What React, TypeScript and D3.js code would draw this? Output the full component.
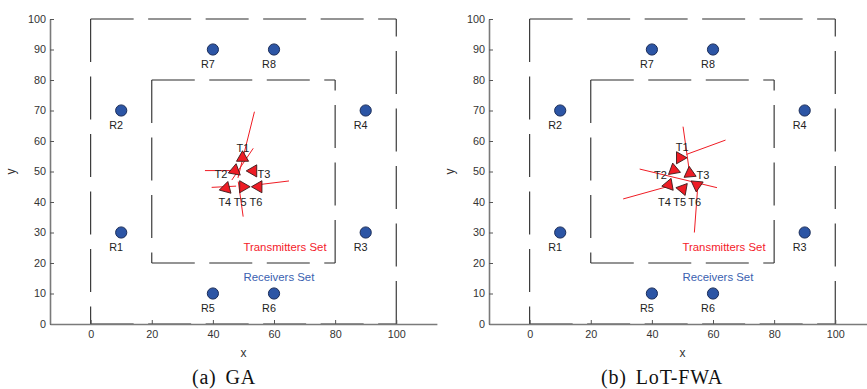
import React, { useEffect, useRef } from 'react';
import * as d3 from 'd3';

// receivers, same positions in both runs
const receiverNames = ['R1', 'R2', 'R3', 'R4', 'R5', 'R6', 'R7', 'R8'];
const receiverX = [10, 10, 90, 90, 40, 60, 40, 60];
const receiverY = [30, 70, 30, 70, 10, 10, 90, 90];

const transmitterNames = ['T1', 'T2', 'T3', 'T4', 'T5', 'T6'];

// (a) GA result
const gaX = [49.7, 47.2, 53.2, 44.3, 49.9, 54.9];
const gaY = [54.5, 50.3, 50.2, 44.5, 45.0, 45.0];
const gaAngle = [210, 200, 180, 195, 0, 180]; // where the tip points, degrees
const gaLabelX = [49.8, 42.6, 56.7, 43.9, 48.9, 54.1];
const gaLabelY = [57.7, 49.2, 49.2, 40.0, 40.0, 40.0];
const gaBeams = [
  [53.6, 69.6, 48.2, 47.9],
  [53.2, 57.6, 46.2, 47.2],
  [37.4, 50.3, 47.2, 50.3],
  [39.6, 44.8, 47.6, 45.2],
  [54.3, 45.6, 64.9, 46.9],
  [48.3, 46.7, 49.9, 35.2],
];

// (b) LoT-FWA result
const fwaX = [49.2, 47.2, 52.4, 45.5, 50.1, 54.7];
const fwaY = [54.5, 50.5, 49.4, 45.6, 44.3, 45.6];
const fwaAngle = [240, 100, 95, 70, 290, 265];
const fwaLabelX = [49.9, 42.8, 56.7, 44.1, 49.1, 54.0];
const fwaLabelY = [58.1, 48.9, 48.9, 39.9, 39.9, 39.9];
const fwaBeams = [
  [50.2, 64.7, 52.2, 50.5],
  [55.0, 45.0, 53.9, 30.0],
  [51.3, 55.6, 64.1, 60.3],
  [36.0, 50.8, 61.3, 44.7],
  [30.6, 41.0, 46.0, 45.3],
];

const xTicks = [0, 20, 40, 60, 80, 100];
const yTicks = [0, 10, 20, 30, 40, 50, 60, 70, 80, 90, 100];
const xDomain = [-13.3, 113.3];
const yDomain = [0, 100];
const outerSquare = [0, 100];
const innerSquare = [20, 80];
const setLabels = ['Transmitters Set', 'Receivers Set'];
const setLabelX = [50, 50];
const setLabelY = [24, 14];

const FONT = 'Liberation Sans, Arial, sans-serif';

const panels = [
  { left: 50, caption: '(a)', name: 'GA', captionX: 224, tx: gaX, ty: gaY, ang: gaAngle, lx: gaLabelX, ly: gaLabelY, beams: gaBeams },
  { left: 489, caption: '(b)', name: 'LoT-FWA', captionX: 662, tx: fwaX, ty: fwaY, ang: fwaAngle, lx: fwaLabelX, ly: fwaLabelY, beams: fwaBeams },
];

const App = () => {
  const svgRef = useRef<SVGSVGElement>(null);

  useEffect(() => {
    const svg = d3.select(svgRef.current);
    svg.selectAll('*').remove();

    const plotW = 386.9;
    const top = 19;
    const bottom = 324;

    panels.forEach((p) => {
      const x = d3.scaleLinear().domain(xDomain).range([p.left, p.left + plotW]);
      const y = d3.scaleLinear().domain(yDomain).range([bottom, top]);
      const g = svg.append('g');

      // dashed squares, one line per side
      const drawSquare = ([a, b]: number[]) => {
        const sides = [
          [a, b, b, b],
          [a, b, a, a],
          [b, a, b, b],
          [a, a, b, a],
        ];
        g.selectAll(null)
          .data(sides)
          .enter()
          .append('line')
          .attr('x1', (d) => x(d[0]))
          .attr('y1', (d) => y(d[1]))
          .attr('x2', (d) => x(d[2]))
          .attr('y2', (d) => y(d[3]))
          .attr('stroke', '#2a2a2a')
          .attr('stroke-width', 1.1)
          .attr('stroke-dasharray', '43 14.5');
      };
      drawSquare(outerSquare);
      drawSquare(innerSquare);

      // axes
      const yAxis = g
        .append('g')
        .attr('transform', `translate(${p.left},0)`)
        .call(d3.axisLeft(y).tickValues(yTicks).tickSizeInner(-4).tickSizeOuter(0).tickPadding(4));
      const xAxis = g
        .append('g')
        .attr('transform', `translate(0,${bottom})`)
        .call(d3.axisBottom(x).tickValues(xTicks).tickSizeInner(-4).tickSizeOuter(0).tickPadding(6));
      [yAxis, xAxis].forEach((ax) => {
        ax.select('.domain').attr('stroke', '#7a7a7a').attr('stroke-width', 1.6);
        ax.selectAll('.tick line').attr('stroke', '#555');
        ax.selectAll('text').attr('font-family', FONT).attr('font-size', 10.8).attr('fill', '#333');
      });

      g.append('text')
        .attr('x', (p.left + p.left + plotW) / 2)
        .attr('y', 357)
        .attr('text-anchor', 'middle')
        .attr('font-family', FONT)
        .attr('font-size', 12)
        .attr('fill', '#333')
        .text('x');
      g.append('text')
        .attr('transform', `translate(${p.left - 35},${(top + bottom) / 2}) rotate(-90)`)
        .attr('text-anchor', 'middle')
        .attr('font-family', FONT)
        .attr('font-size', 12)
        .attr('fill', '#333')
        .text('y');

      // beams
      g.selectAll(null)
        .data(p.beams)
        .enter()
        .append('line')
        .attr('x1', (d) => x(d[0]))
        .attr('y1', (d) => y(d[1]))
        .attr('x2', (d) => x(d[2]))
        .attr('y2', (d) => y(d[3]))
        .attr('stroke', '#f01c24')
        .attr('stroke-width', 1);

      // transmitters
      const r = 7;
      const tri = (i: number) => {
        const cx = x(p.tx[i]);
        const cy = y(p.ty[i]);
        const path = d3.path();
        [0, 120, 240].forEach((o, k) => {
          const a = ((p.ang[i] + o) * Math.PI) / 180;
          const px = cx + r * Math.cos(a);
          const py = cy - r * Math.sin(a);
          if (k === 0) path.moveTo(px, py);
          else path.lineTo(px, py);
        });
        path.closePath();
        return path.toString();
      };
      g.selectAll(null)
        .data(transmitterNames)
        .enter()
        .append('path')
        .attr('d', (d, i) => tri(i))
        .attr('fill', '#ee1c25')
        .attr('stroke', '#3a1a1a')
        .attr('stroke-width', 0.9);
      g.selectAll(null)
        .data(transmitterNames)
        .enter()
        .append('text')
        .attr('x', (d, i) => x(p.lx[i]))
        .attr('y', (d, i) => y(p.ly[i]))
        .attr('dy', '0.36em')
        .attr('text-anchor', 'middle')
        .attr('font-family', FONT)
        .attr('font-size', 11)
        .attr('fill', '#222')
        .text((d) => d);

      // receivers
      g.selectAll(null)
        .data(receiverNames)
        .enter()
        .append('circle')
        .attr('cx', (d, i) => x(receiverX[i]))
        .attr('cy', (d, i) => y(receiverY[i]))
        .attr('r', 5.6)
        .attr('fill', '#2c55a5')
        .attr('stroke', '#1a2c58')
        .attr('stroke-width', 1);
      g.selectAll(null)
        .data(receiverNames)
        .enter()
        .append('text')
        .attr('x', (d, i) => x(receiverX[i]) - 5)
        .attr('y', (d, i) => y(receiverY[i]) + 15)
        .attr('dy', '0.36em')
        .attr('text-anchor', 'middle')
        .attr('font-family', FONT)
        .attr('font-size', 10.8)
        .attr('fill', '#222')
        .text((d) => d);

      // set legends
      g.selectAll(null)
        .data(setLabels)
        .enter()
        .append('text')
        .attr('x', (d, i) => x(setLabelX[i]))
        .attr('y', (d, i) => y(setLabelY[i]))
        .attr('font-family', FONT)
        .attr('font-size', 11.4)
        .attr('fill', (d, i) => (i === 0 ? '#f4202a' : '#3a5fb0'))
        .text((d) => d);

      // caption
      const cap = g
        .append('text')
        .attr('x', p.captionX)
        .attr('y', 384)
        .attr('text-anchor', 'middle')
        .attr('font-family', 'Liberation Serif, serif')
        .attr('font-size', 20)
        .attr('letter-spacing', 0.8)
        .attr('fill', '#111');
      cap.append('tspan').text(p.caption);
      cap.append('tspan').attr('dx', 9).text(p.name);
    });
  }, []);

  return (
    <svg
      ref={svgRef}
      width={867}
      height={389}
      style={{ position: 'absolute', left: 0, top: 0, background: '#fff' }}
    />
  );
};

export default App;
